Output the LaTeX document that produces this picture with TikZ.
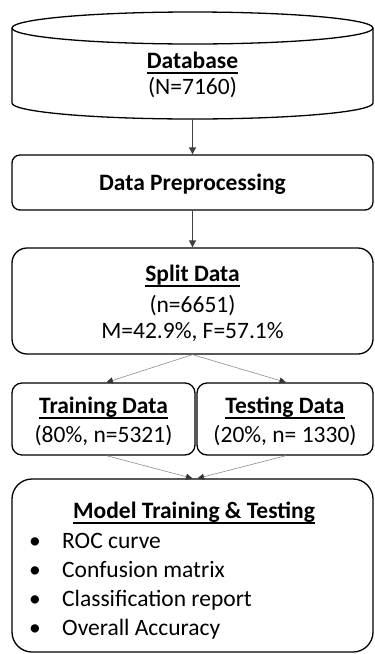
\documentclass[tikz,border=0pt]{standalone}
\usepackage{fontspec}
\setmainfont{Carlito}
\usetikzlibrary{arrows.meta,calc}
\newcommand\ulin[1]{\setbox0\hbox{#1}\rlap{\rule[-5.5pt]{\wd0}{1.3pt}}\box0}
\begin{document}
\begin{tikzpicture}[x=1pt,y=-1pt,
  boxline/.style={draw=black, line width=1.3pt, inner sep=0pt, fill=white},
  txt/.style={font=\fontsize{23.5}{28}\selectfont, inner sep=0pt, anchor=base},
  btxt/.style={font=\fontsize{23.5}{28}\selectfont\bfseries, inner sep=0pt, anchor=base},
  ltxt/.style={font=\fontsize{23.5}{28}\selectfont, inner sep=0pt, anchor=base west},
  varr/.style={draw=black!75, line width=0.8pt, -{Stealth[length=7pt,width=7pt,inset=0pt]}},
  darr/.style={draw=black!45, line width=0.6pt, -{Stealth[length=6.5pt,width=6pt,inset=0pt,color=black!80,fill=black!80]}}]
\useasboundingbox (0,0) rectangle (375,654);

% Database cylinder
\node[inner sep=0pt, minimum width=361pt, minimum height=107pt] (db) at (192.5,65.5) {};
\draw[line width=1.3pt] (12,28) -- (12,103) arc[start angle=180,end angle=0,x radius=180.5,y radius=16] -- (373,28);
\draw[line width=1.3pt] (192.5,28) ellipse[x radius=180.5, y radius=16];
\node[btxt] (dbt) at (192.5,68) {\ulin{Database}};
\node[txt] (dbn) at (192.5,94) {(N=7160)};

% Data preprocessing
\node[boxline, rounded corners=8pt, minimum width=361pt, minimum height=55pt] (pre) at (192.5,182.5) {};
\node[btxt] (pret) at (192.5,190) {Data Preprocessing};

% Split data
\node[boxline, rounded corners=15pt, minimum width=361pt, minimum height=106pt] (split) at (192.5,301) {};
\node[btxt] (splt) at (192.5,281) {\ulin{Split Data}};
\node[txt] (spln) at (192.5,312) {(n=6651)};
\node[txt] (splm) at (192.5,338) {M=42.9\%, F=57.1\%};

% Training / Testing
\node[boxline, rounded corners=10pt, minimum width=183pt, minimum height=72pt] (train) at (103.5,419) {};
\node[btxt] (trt) at (103.5,413) {\ulin{Training Data}};
\node[txt] (trn) at (103.5,442) {(80\%, n=5321)};
\node[boxline, rounded corners=10pt, minimum width=176pt, minimum height=72pt] (test) at (285,419) {};
\node[btxt] (tet) at (285,413) {\ulin{Testing Data}};
\node[txt] (ten) at (285,442) {(20\%, n= 1330)};

% Model training & testing
\node[boxline, rounded corners=20pt, minimum width=361pt, minimum height=173pt] (model) at (192.5,565.5) {};
\node[btxt] (modt) at (194,518) {\ulin{Model Training \& Testing}};
\node[txt] (b1) at (35,548) {•};
\node[ltxt] (l1) at (62,548) {ROC curve};
\node[txt] (b2) at (35,577) {•};
\node[ltxt] (l2) at (62,577) {Confusion matrix};
\node[txt] (b3) at (35,606) {•};
\node[ltxt] (l3) at (62,606) {Classification report};
\node[txt] (b4) at (35,635) {•};
\node[ltxt] (l4) at (62,635) {Overall Accuracy};

% connectors
\draw[varr] (db.south) -- (pre.north);
\draw[varr] (pre.south) -- (split.north);
\draw[darr] (split.south) -- ($(train.north)+(3,0)$);
\draw[darr] (split.south) -- ($(test.north)+(1,0)$);
\draw[darr] ($(train.south)+(3,0)$) -- ($(model.north)+(0,0)$);
\draw[darr] ($(test.south)+(1,0)$) -- ($(model.north)+(5,0)$);
\end{tikzpicture}
\end{document}
